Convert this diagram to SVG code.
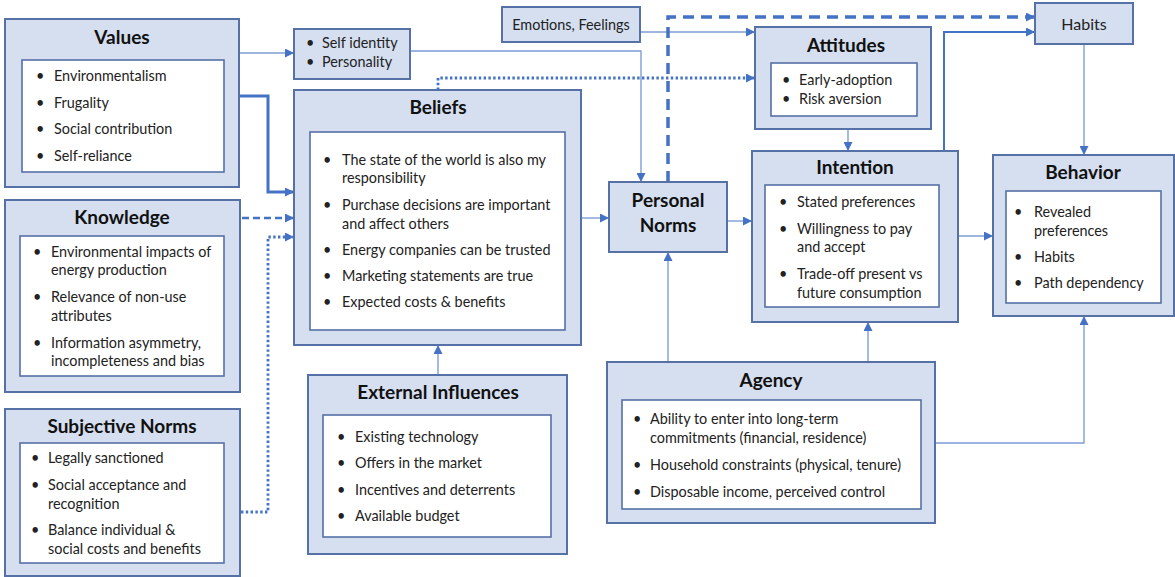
<svg xmlns="http://www.w3.org/2000/svg" width="1175" height="577" viewBox="0 0 1175 577">
<defs>
<style>
.o{fill:#d5dff0;stroke:#5671a6;stroke-width:2}
.i{fill:#ffffff;stroke:#5671a6;stroke-width:1.6}
.t{font-family:Lato,"Liberation Sans",sans-serif;font-weight:bold;font-size:19px;fill:#111;text-anchor:middle}
.x{font-family:Lato,"Liberation Sans",sans-serif;font-size:14.4px;fill:#222}
.c{fill:none;stroke:#4472c4}
.thin{stroke:#7e9dd3;stroke-width:1.4}
.thick{stroke-width:3}
.dash{stroke-width:3.5;stroke-dasharray:11 7}
.dash2{stroke-width:2.6;stroke-dasharray:7 4}
.dot{stroke-width:2.8;stroke-dasharray:2.4 2.4}
</style>
<marker id="a" markerUnits="userSpaceOnUse" markerWidth="9" markerHeight="9" refX="9" refY="4.5" orient="auto"><path d="M0,0 L9,4.5 L0,9 z" fill="#4472c4"/></marker>
</defs>
<rect width="1175" height="577" fill="#ffffff"/>

<g id="connectors">
<path class="c thin" d="M240,53 H294" marker-end="url(#a)"/>
<path class="c thick" d="M240,96 H268 V192 H294" marker-end="url(#a)"/>
<path class="c dash2" d="M242,218 H294" marker-end="url(#a)"/>
<path class="c dot" d="M241,512 H268 V237 H294" marker-end="url(#a)"/>
<path class="c thin" d="M410,51 H641 V182" marker-end="url(#a)"/>
<path class="c thin" d="M640,32 H755" marker-end="url(#a)"/>
<path class="c dot" d="M438,90 V78 H755" marker-end="url(#a)"/>
<path class="c dash" d="M668,182 V17 H1035" marker-end="url(#a)"/>
<path class="c" style="stroke-width:2" d="M944,151 V32 H1035" marker-end="url(#a)"/>
<path class="c thin" d="M1084,44 V155" marker-end="url(#a)"/>
<path class="c thin" d="M848,129 V151" marker-end="url(#a)"/>
<path class="c thin" d="M581,218 H609" marker-end="url(#a)"/>
<path class="c thin" d="M727,221 H752" marker-end="url(#a)"/>
<path class="c thin" d="M958,236 H993" marker-end="url(#a)"/>
<path class="c thin" d="M668,362 V252" marker-end="url(#a)"/>
<path class="c thin" d="M868,362 V322" marker-end="url(#a)"/>
<path class="c thin" d="M935,443 H1084 V316" marker-end="url(#a)"/>
<path class="c thin" d="M438,375 V345" marker-end="url(#a)"/>
</g>

<g id="values">
<rect class="o" x="5" y="19" width="234" height="168"/>
<rect class="i" x="22" y="60" width="202" height="112"/>
<text class="t" x="122" y="44">Values</text>
<g class="x">
<text x="36" y="81">•</text><text x="54" y="81">Environmentalism</text>
<text x="36" y="108">•</text><text x="54" y="108">Frugality</text>
<text x="36" y="134">•</text><text x="54" y="134">Social contribution</text>
<text x="36" y="161">•</text><text x="54" y="161">Self-reliance</text>
</g>
</g>

<g id="knowledge">
<rect class="o" x="5" y="200" width="235" height="192"/>
<rect class="i" x="20" y="236" width="204" height="140"/>
<text class="t" x="122" y="224">Knowledge</text>
<g class="x">
<text x="33" y="257">•</text><text x="51" y="257">Environmental impacts of</text>
<text x="51" y="275">energy production</text>
<text x="33" y="302">•</text><text x="51" y="302">Relevance of non-use</text>
<text x="51" y="321">attributes</text>
<text x="33" y="348">•</text><text x="51" y="348">Information asymmetry,</text>
<text x="51" y="366">incompleteness and bias</text>
</g>
</g>

<g id="subjective-norms">
<rect class="o" x="5" y="409" width="235" height="167"/>
<rect class="i" x="20" y="443" width="204" height="120"/>
<text class="t" x="122" y="433">Subjective Norms</text>
<g class="x">
<text x="31" y="463">•</text><text x="48" y="463">Legally sanctioned</text>
<text x="31" y="490">•</text><text x="48" y="490">Social acceptance and</text>
<text x="48" y="509">recognition</text>
<text x="31" y="535">•</text><text x="48" y="535">Balance individual &amp;</text>
<text x="48" y="554">social costs and benefits</text>
</g>
</g>

<g id="self-identity">
<rect class="o" x="294" y="29" width="116" height="50"/>
<g class="x">
<text x="306" y="48">•</text><text x="322" y="48">Self identity</text>
<text x="306" y="67">•</text><text x="322" y="67">Personality</text>
</g>
</g>

<g id="beliefs">
<rect class="o" x="294" y="90" width="287" height="255"/>
<rect class="i" x="310" y="132" width="255" height="198"/>
<text class="t" x="438" y="114">Beliefs</text>
<g class="x">
<text x="323" y="165">•</text><text x="342" y="165">The state of the world is also my</text>
<text x="342" y="183">responsibility</text>
<text x="323" y="210">•</text><text x="342" y="210">Purchase decisions are important</text>
<text x="342" y="229">and affect others</text>
<text x="323" y="255">•</text><text x="342" y="255">Energy companies can be trusted</text>
<text x="323" y="281">•</text><text x="342" y="281">Marketing statements are true</text>
<text x="323" y="307">•</text><text x="342" y="307">Expected costs &amp; benefits</text>
</g>
</g>

<g id="external-influences">
<rect class="o" x="308" y="375" width="259" height="179"/>
<rect class="i" x="323" y="415" width="228" height="122"/>
<text class="t" x="438" y="399">External Influences</text>
<g class="x">
<text x="337" y="442">•</text><text x="355" y="442">Existing technology</text>
<text x="337" y="468">•</text><text x="355" y="468">Offers in the market</text>
<text x="337" y="495">•</text><text x="355" y="495">Incentives and deterrents</text>
<text x="337" y="521">•</text><text x="355" y="521">Available budget</text>
</g>
</g>

<g id="emotions">
<rect class="o" x="502" y="7" width="138" height="35"/>
<text class="x" x="571" y="30" text-anchor="middle">Emotions, Feelings</text>
</g>

<g id="personal-norms">
<rect class="o" x="609" y="182" width="118" height="70"/>
<text class="t" x="668" y="207">Personal</text>
<text class="t" x="668" y="232">Norms</text>
</g>

<g id="attitudes">
<rect class="o" x="755" y="27" width="176" height="102"/>
<rect class="i" x="771" y="63" width="146" height="53"/>
<text class="t" x="846" y="52">Attitudes</text>
<g class="x">
<text x="782" y="85">•</text><text x="799" y="85">Early-adoption</text>
<text x="782" y="104">•</text><text x="799" y="104">Risk aversion</text>
</g>
</g>

<g id="intention">
<rect class="o" x="752" y="151" width="206" height="171"/>
<rect class="i" x="765" y="185" width="174" height="122"/>
<text class="t" x="855" y="174">Intention</text>
<g class="x">
<text x="779" y="207">•</text><text x="797" y="207">Stated preferences</text>
<text x="779" y="234">•</text><text x="797" y="234">Willingness to pay</text>
<text x="797" y="252">and accept</text>
<text x="779" y="279">•</text><text x="797" y="279">Trade-off present vs</text>
<text x="797" y="298">future consumption</text>
</g>
</g>

<g id="habits">
<rect class="o" x="1035" y="3" width="98" height="41"/>
<text class="x" x="1084" y="30" text-anchor="middle" style="font-size:16px">Habits</text>
</g>

<g id="behavior">
<rect class="o" x="993" y="155" width="181" height="161"/>
<rect class="i" x="1006" y="191" width="155" height="112"/>
<text class="t" x="1083" y="179">Behavior</text>
<g class="x">
<text x="1014" y="217">•</text><text x="1034" y="217">Revealed</text>
<text x="1034" y="236">preferences</text>
<text x="1014" y="262">•</text><text x="1034" y="262">Habits</text>
<text x="1014" y="288">•</text><text x="1034" y="288">Path dependency</text>
</g>
</g>

<g id="agency">
<rect class="o" x="607" y="362" width="328" height="161"/>
<rect class="i" x="622" y="400" width="299" height="109"/>
<text class="t" x="771" y="387">Agency</text>
<g class="x">
<text x="633" y="424">•</text><text x="650" y="424">Ability to enter into long-term</text>
<text x="650" y="443">commitments (financial, residence)</text>
<text x="633" y="470">•</text><text x="650" y="470">Household constraints (physical, tenure)</text>
<text x="633" y="497">•</text><text x="650" y="497">Disposable income, perceived control</text>
</g>
</g>
</svg>
